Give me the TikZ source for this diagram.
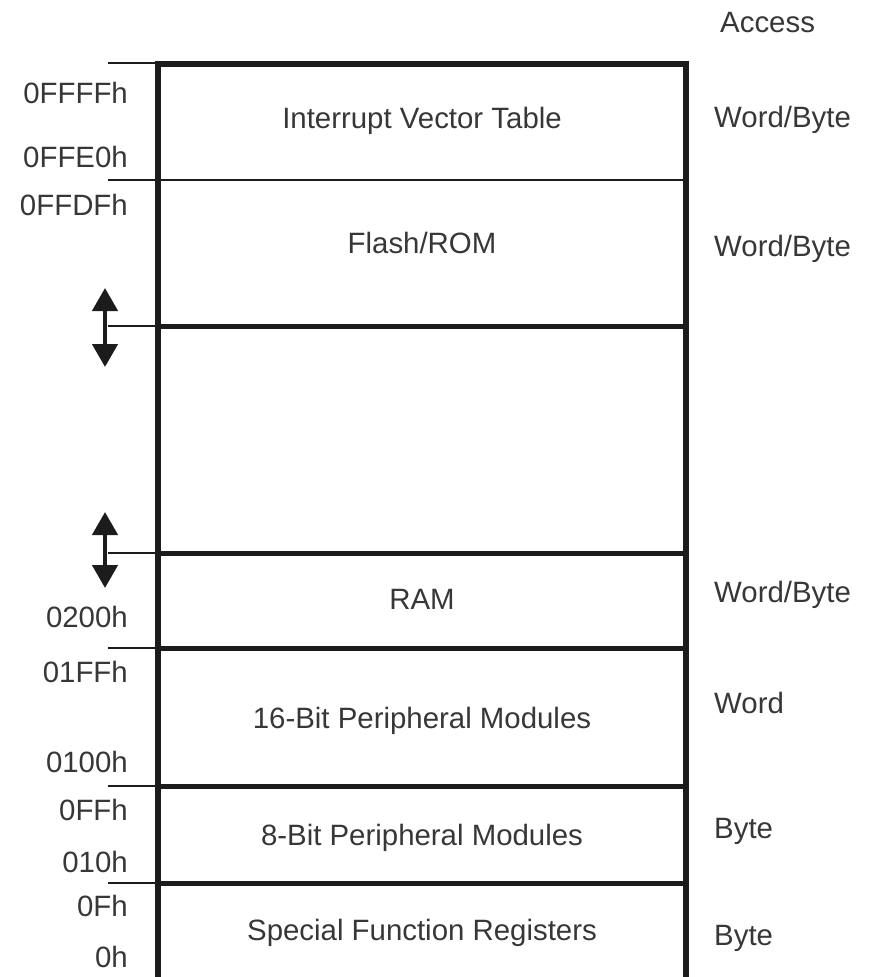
\documentclass[tikz,border=0pt]{standalone}
\usepackage{fontspec}
\setmainfont{Liberation Sans}
\usetikzlibrary{arrows.meta,positioning}
\definecolor{ink}{RGB}{28, 28, 28}
\definecolor{txt}{RGB}{55, 55, 55}
\tikzstyle{lbl} = [inner sep=0pt, text=txt, text height=21pt, text depth=0pt, font=\fontsize{29.4}{30}\selectfont]
\tikzstyle{addr} = [lbl, anchor=east]
\tikzstyle{acc} = [lbl, anchor=west]
\tikzstyle{region} = [lbl, anchor=center]
\tikzstyle{frame} = [draw=ink, line width=5.5pt, line join=miter]
\tikzstyle{sep} = [draw=ink, line width=5pt]
\tikzstyle{thinsep} = [draw=ink, line width=2.5pt]
\tikzstyle{tick} = [draw=ink, line width=1.5pt]
\tikzstyle{movable} = [draw=ink, line width=4.5pt, {Triangle[width=25pt,length=23pt]}-{Triangle[width=25pt,length=23pt]}]

\begin{document}
\begin{tikzpicture}[x=1pt, y=-1pt]
\useasboundingbox (0,0) rectangle (871,977);

% memory block =============================
\draw[frame] (158,985) -- (158,64) -- (686,64) -- (686,985);
\draw[thinsep] (158,180) -- (686,180);
\foreach \y in {326,553,648,786,883}
  \draw[sep] (158,\y) -- (686,\y);

% boundary ticks
\foreach \y [count=\i] in {63,180,326,553,648,786,883} {
  \coordinate (tick\i) at (108,\y);
  \draw[tick] (tick\i) -- (158,\y);
}

% movable boundaries
\coordinate (romtop) at (105,288);
\coordinate (rombot) at (105,367);
\coordinate (ramtop) at (105,512);
\coordinate (rambot) at (105,588);
\draw[movable] (romtop) -- (rombot);
\draw[movable] (ramtop) -- (rambot);

% regions
\node[region] (ivt) at (422,118) {Interrupt Vector Table};
\node[region] (rom) at (422,243) {Flash/ROM};
\node[region] (ram) at (422,599) {RAM};
\node[region] (per16) at (422,718) {16-Bit Peripheral Modules};
\node[region] (per8) at (422,835) {8-Bit Peripheral Modules};
\node[region] (sfr) at (422,930) {Special Function Registers};

% addresses
\foreach \y/\t [count=\i] in {93/0FFFFh, 157/0FFE0h, 205/0FFDFh, 617/0200h,
    672/01FFh, 762/0100h, 810/0FFh, 862/010h, 906/0Fh, 957/0h}
  \node[addr] (addr\i) at (128,\y) {\t};

% access width
\node[acc] (access) at (720,22) {Access};
\foreach \y/\t [count=\i] in {117/{Word/Byte}, 246/{Word/Byte}, 592/{Word/Byte},
    703/Word, 828/Byte, 935/Byte}
  \node[acc] (acc\i) at (714,\y) {\t};

\end{tikzpicture}
\end{document}
